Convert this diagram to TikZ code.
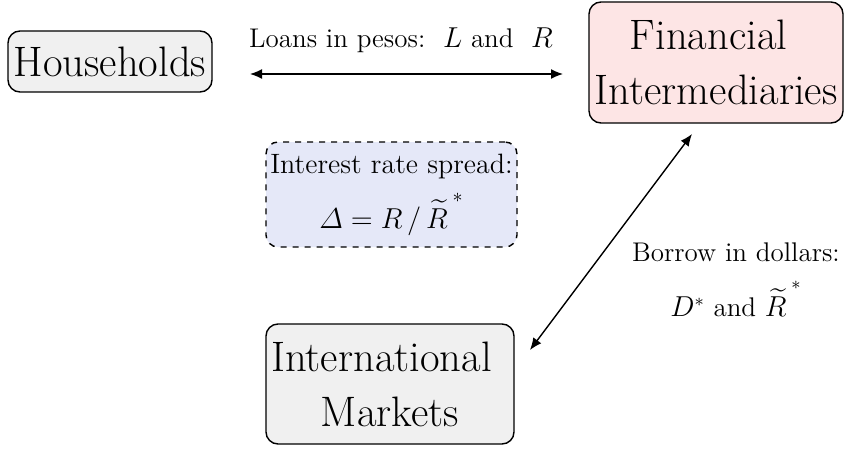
\documentclass[tikz,border=0pt]{standalone}
\usepackage{amsmath}
\usetikzlibrary{arrows.meta}
\definecolor{boxgray}{HTML}{F0F0F0}
\definecolor{boxpink}{HTML}{FDE5E5}
\definecolor{boxblue}{HTML}{E5E8F8}
\newcommand{\Rtil}{{\widetilde{R\,}}^{\raisebox{0.45ex}{$\scriptstyle *$}}}
\tikzset{
  box/.style={draw, line width=0.7pt, rounded corners=6pt, inner sep=0pt, align=center},
  bigtxt/.style={font=\fontsize{21.3}{27.5}\selectfont},
  midtxt/.style={font=\fontsize{14}{27.5}\selectfont},
  lbltxt/.style={font=\fontsize{13.5}{27.5}\selectfont},
  conn/.style={line width=0.7pt, {Latex[length=6pt,width=5pt]}-{Latex[length=6pt,width=5pt]}},
}
\begin{document}
\begin{tikzpicture}[x=0.5pt,y=-0.5pt]
\useasboundingbox (0,0) rectangle (844,449);
\node[box, bigtxt, fill=boxgray, minimum width=102pt, minimum height=30.5pt] (hh) at (110,61.5) {Households};
\node[box, bigtxt, fill=boxpink, minimum width=127pt, minimum height=60.5pt] (fi) at (716,62.5) {Financial\kern0.35em\\Intermediaries};
\node[box, midtxt, fill=boxblue, dashed, minimum width=125.5pt, minimum height=52.5pt] (sp) at (391.5,194.5) {Interest rate spread:\\$\varDelta = R\,/\,\Rtil$};
\node[box, bigtxt, fill=boxgray, minimum width=124pt, minimum height=60pt] (im) at (390,384) {International\kern0.4em\\Markets};
\node[lbltxt, inner sep=0pt] (loanlbl) at (401,40) {Loans in pesos:\ \ $L$ and\ \ $R$};
\node[lbltxt, inner sep=0pt, align=center] (borlbl) at (736,280) {Borrow in dollars:\\$D^{*}$ and $\Rtil$};
\coordinate (a1) at (250,74);
\coordinate (a2) at (563,74);
\coordinate (b1) at (530,350);
\coordinate (b2) at (692,134);
\draw[conn] (a1) -- (a2);
\draw[conn] (b1) -- (b2);
\end{tikzpicture}
\end{document}
